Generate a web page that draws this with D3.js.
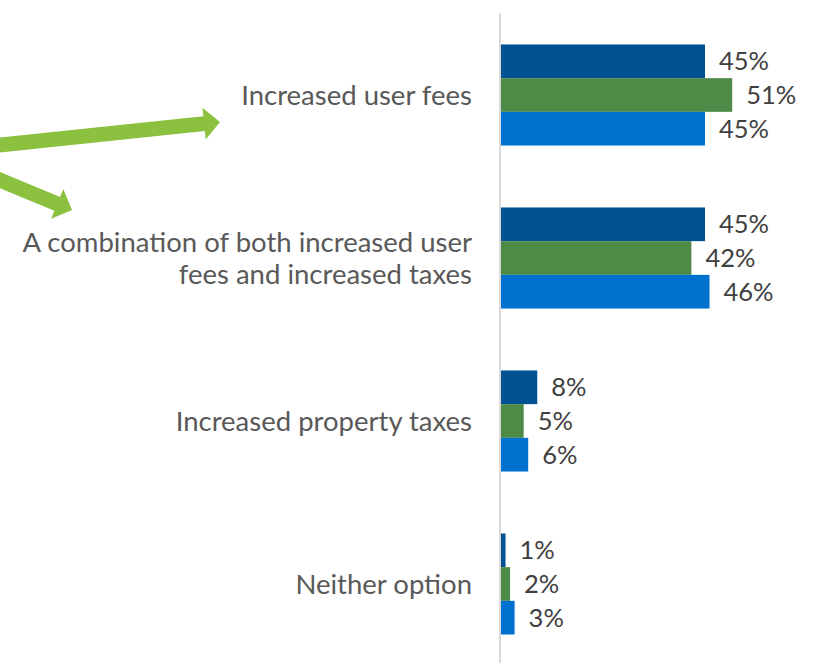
<!DOCTYPE html>
<html>
<head>
<meta charset="utf-8">
<script src="https://cdn.jsdelivr.net/npm/d3@7"></script>
<style>
  html, body { margin: 0; padding: 0; background: #ffffff; }
  svg { display: block; }
</style>
</head>
<body>
<div id="chart"></div>
<script>
// ---- Data ----
const categories = [
  ["Increased user fees"],
  ["A combination of both increased user", "fees and increased taxes"],
  ["Increased property taxes"],
  ["Neither option"]
];
const seriesNames = ["Series A", "Series B", "Series C"];
const seriesA = [45, 45, 8, 1];
const seriesB = [51, 42, 5, 2];
const seriesC = [45, 46, 6, 3];
const seriesColors = ["#005293", "#4E8B46", "#0071CE"];

// Annotation arrows: [start, tip]
const arrows = [
  { from: [-10, 146], to: [220, 122] },
  { from: [-10, 176], to: [72, 210] }
];

// ---- Layout ----
const W = 830, H = 663;
const svg = d3.select("#chart").append("svg").attr("width", W).attr("height", H);

const catKeys = categories.map((d, i) => "c" + i);
const y = d3.scaleBand().domain(catKeys).range([13.5, 665.5]).paddingInner(0.38).paddingOuter(0.19);
const ySub = d3.scaleBand().domain(seriesNames).range([0, y.bandwidth()]);
const x = d3.scaleLinear().domain([0, 60]).range([501, 501 + 272]);

const allSeries = [seriesA, seriesB, seriesC];
const rows = [];
catKeys.forEach((k, i) => {
  allSeries.forEach((s, j) => rows.push({ cat: k, series: seriesNames[j], value: s[i], color: seriesColors[j] }));
});

// bars
svg.append("g").selectAll("rect").data(rows).join("rect")
  .attr("x", x(0))
  .attr("y", d => y(d.cat) + ySub(d.series))
  .attr("width", d => x(d.value) - x(0))
  .attr("height", ySub.bandwidth())
  .attr("fill", d => d.color);

// value labels
const fontFamily = "Lato, 'Open Sans', sans-serif";
svg.append("g").selectAll("text").data(rows).join("text")
  .attr("x", d => x(d.value) + 14)
  .attr("y", d => y(d.cat) + ySub(d.series) + ySub.bandwidth() / 2)
  .attr("dy", "0.35em")
  .attr("font-family", fontFamily)
  .attr("font-size", 25.5)
  .attr("fill", "#404040")
  .text(d => d.value + "%");

// axis line
svg.append("line")
  .attr("x1", 500).attr("x2", 500)
  .attr("y1", 13).attr("y2", H)
  .attr("stroke", "#d9d9d9").attr("stroke-width", 2);

// category labels
const lineH = 32;
const lab = svg.append("g").selectAll("text").data(categories).join("text")
  .attr("text-anchor", "end")
  .attr("font-family", fontFamily)
  .attr("font-size", 27.5)
  .attr("fill", "#595959")
  .attr("transform", (d, i) => `translate(472, ${y(catKeys[i]) + y.bandwidth() / 2 - (d.length - 1) * lineH / 2})`);
lab.selectAll("tspan").data(d => d).join("tspan")
  .attr("x", 0)
  .attr("y", (d, i) => i * lineH)
  .attr("dy", "0.35em")
  .text(d => d);

// arrows
function arrowPath(a, shaft = 15, headLen = 16, headW = 32) {
  const [x0, y0] = a.from, [x1, y1] = a.to;
  const dx = x1 - x0, dy = y1 - y0, L = Math.hypot(dx, dy);
  const ux = dx / L, uy = dy / L, nx = -uy, ny = ux;
  const bx = x1 - ux * headLen, by = y1 - uy * headLen;
  const p = (cx, cy, o) => [cx + nx * o, cy + ny * o];
  const pts = [
    p(x0, y0, shaft / 2), p(bx, by, shaft / 2), p(bx, by, headW / 2), [x1, y1],
    p(bx, by, -headW / 2), p(bx, by, -shaft / 2), p(x0, y0, -shaft / 2)
  ];
  return d3.line()(pts) + "Z";
}
svg.append("g").selectAll("path").data(arrows).join("path")
  .attr("d", d => arrowPath(d))
  .attr("fill", "#8BC13F");
</script>
</body>
</html>
